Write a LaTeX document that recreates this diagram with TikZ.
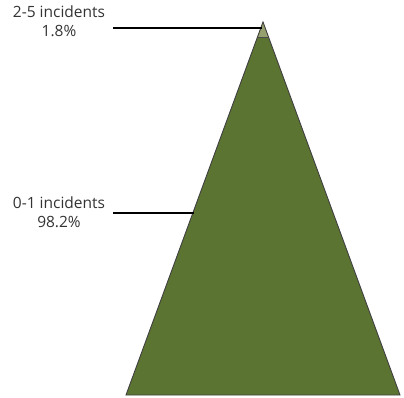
\documentclass[tikz,border=0pt]{standalone}
\usepackage{fontspec}
\setmainfont{Open Sans}
\usetikzlibrary{calc}
\definecolor{pyr}{RGB}{92,116,50}
\definecolor{pyrtop}{RGB}{150,160,110}
\begin{document}
\begin{tikzpicture}[x=1pt,y=-1pt,
  lab/.style={align=center,font=\fontsize{15.5}{19}\selectfont,text=black!80,inner sep=0pt},
  leader/.style={line width=1.2pt,black}]
\useasboundingbox (0,0) rectangle (404,398);
\coordinate (apex) at (263,22);
\coordinate (bl) at (126,395);
\coordinate (br) at (400,395);
\fill[pyr] (apex) -- (bl) -- (br) -- cycle;
\fill[pyrtop] (apex) -- ($(apex)!0.04!(bl)$) -- ($(apex)!0.04!(br)$) -- cycle;
\draw[black!70,line width=0.8pt] ($(apex)!0.04!(bl)$) -- ($(apex)!0.04!(br)$);
\draw[black!75,line width=0.9pt,line join=miter] (apex) -- (bl) -- (br) -- cycle;
\node[lab] (t1) at (59,21) {2-5 incidents\\1.8\%};
\node[lab] (t2) at (59,212) {0-1 incidents\\98.2\%};
\coordinate (s1) at (113,28);
\coordinate (s2) at (113,213);
\coordinate (e1) at (262,28);
\coordinate (e2) at (194,213);
\draw[leader] (s1) -- (e1);
\draw[leader] (s2) -- (e2);
\end{tikzpicture}
\end{document}
